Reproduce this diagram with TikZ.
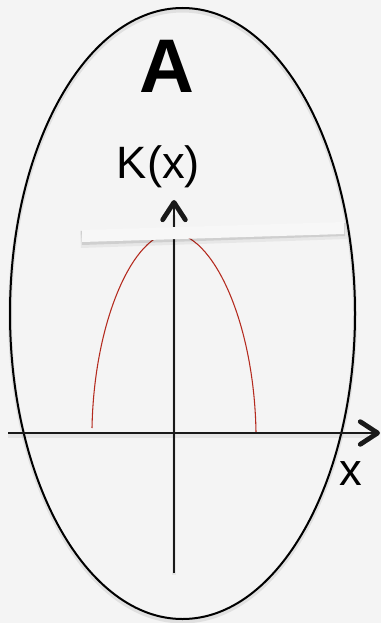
\documentclass[tikz,border=0pt]{standalone}
\usepackage{fontspec}
\setmainfont{Liberation Sans}
\usetikzlibrary{arrows.meta}
\definecolor{bg}{HTML}{F4F4F4}
\definecolor{curvered}{HTML}{B42A1E}
\begin{document}
\begin{tikzpicture}[x=0.75pt,y=-0.75pt,
  axis/.style={line width=1.8pt, black!90, -{Straight Barb[length=13pt,width=17pt,line width=3.6pt,round]}},
  label/.style={inner sep=0pt, text=black},
  shadowline/.style={line width=3pt, black, opacity=0.06}]
\fill[bg] (0,0) rectangle (381,623);
\useasboundingbox (0,0) rectangle (381,623);
% ellipse shadow + ellipse
\draw[black, opacity=0.08, line width=3pt] (182.5,316) ellipse [x radius=172.5, y radius=305.5];
\draw[black, line width=1.5pt] (182.5,313.5) ellipse [x radius=172.5, y radius=305.5];
% title
\node[label, font=\bfseries\fontsize{57}{57}\selectfont] (title) at (166.5,66) {A};
% red curve
\coordinate (cl) at (92,428);
\coordinate (ctop) at (172,233);
\coordinate (cr) at (256,432);
\draw[curvered, line width=0.8pt] (cl) .. controls (94,320) and (134,233) .. (ctop) .. controls (212,233) and (254,320) .. (cr);
% axes
\coordinate (ybot) at (174,573);
\coordinate (ytop) at (174,200);
\coordinate (xleft) at (8,433);
\coordinate (xright) at (380,433);
\draw[shadowline] (174,575) -- (174,215);
\draw[shadowline] (8,436) -- (368,436);
\draw[axis] (ybot) -- (ytop);
\draw[axis] (xleft) -- (xright);
% white bar with shadow
\fill[black, opacity=0.05] (80,231) -- (346,223) -- (347,239) -- (81,248) -- cycle;
\fill[black, opacity=0.10] (81,231) -- (345,223) -- (345,236) -- (82,245) -- cycle;
\fill[white!97!black] (82,230) -- (344,222) -- (344,234) -- (82,242) -- cycle;
% labels
\node[label, font=\fontsize{34}{34}\selectfont, anchor=base] (kx) at (158.5,179) {K(x)};
\node[label, font=\fontsize{34}{34}\selectfont, anchor=base] (xl) at (350.5,485) {x};
\end{tikzpicture}
\end{document}
